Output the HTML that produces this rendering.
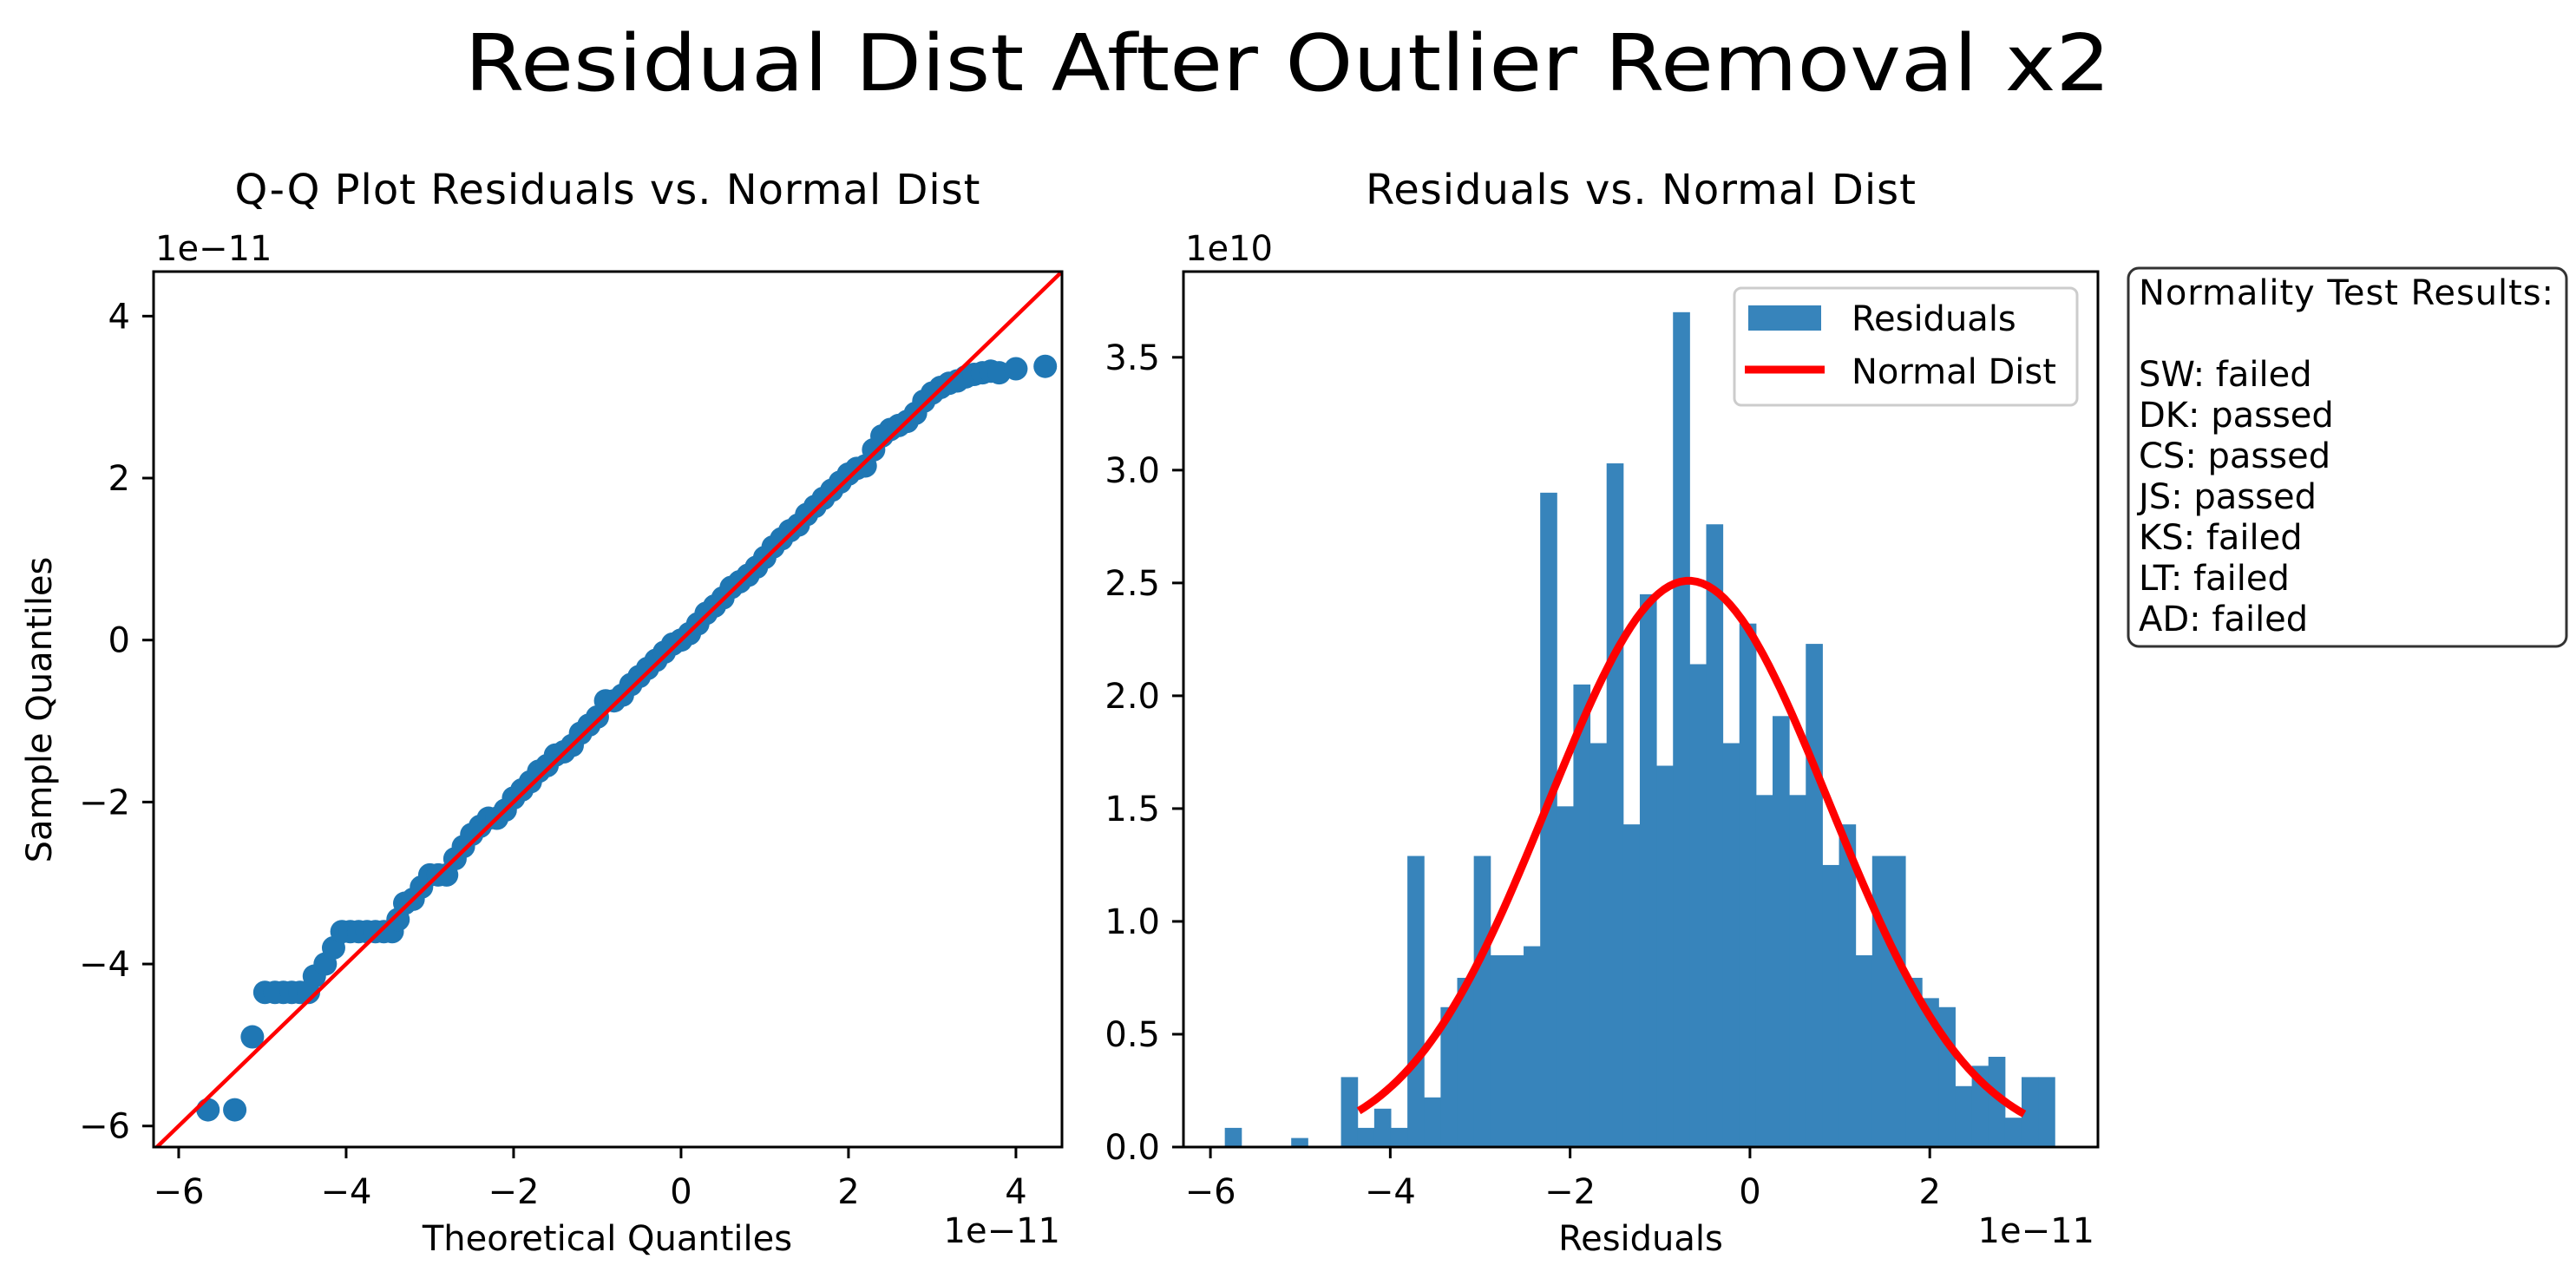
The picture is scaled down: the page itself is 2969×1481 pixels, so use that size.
<!DOCTYPE html>
<html><head><meta charset="utf-8"><style>
html,body{margin:0;padding:0;background:#fff;}
svg{display:block;font-family:"DejaVu Sans","Liberation Sans",sans-serif;}
</style></head><body>
<svg id="fig" width="2969" height="1481" viewBox="0 0 2969 1481" xmlns="http://www.w3.org/2000/svg">
<rect width="2969" height="1481" fill="#fff"/>
<text x="1484" y="104" font-size="90" text-anchor="middle" textLength="1897" lengthAdjust="spacingAndGlyphs">Residual Dist After Outlier Removal x2</text>
<g id="left"></g>
<g id="right"></g>
<g>
<rect x="2453" y="309" width="505" height="436" rx="12" fill="#fff" stroke="#333" stroke-width="3"/>
<text x="2465" y="351" font-size="40" textLength="478">Normality Test Results:</text>
<text x="2465" y="445" font-size="40">SW: failed</text>
<text x="2465" y="492" font-size="40">DK: passed</text>
<text x="2465" y="539" font-size="40">CS: passed</text>
<text x="2465" y="586" font-size="40">JS: passed</text>
<text x="2465" y="633" font-size="40">KS: failed</text>
<text x="2465" y="680" font-size="40">LT: failed</text>
<text x="2465" y="727" font-size="40">AD: failed</text>
</g>
</svg>
<script>
// QQ data (units of 1e-11)
const qqTheoretical = [-5.65,-5.33,-5.12,-4.97,-4.85,-4.75,-4.65,-4.55,-4.45,-4.38,-4.25,-4.15,-4.05,-3.95,-3.85,-3.75,-3.65,-3.55,-3.45,-3.38,-3.3,-3.2,-3.1,-3.0,-2.9,-2.8,-2.7,-2.6,-2.5,-2.4,-2.3,-2.2,-2.1,-2.0,-1.9,-1.8,-1.7,-1.6,-1.5,-1.4,-1.3,-1.2,-1.1,-1.0,-0.9,-0.8,-0.7,-0.6,-0.5,-0.4,-0.3,-0.2,-0.1,0,0.1,0.2,0.3,0.4,0.5,0.6,0.7,0.8,0.9,1.0,1.1,1.2,1.3,1.4,1.5,1.6,1.7,1.8,1.9,2.0,2.1,2.2,2.3,2.4,2.5,2.6,2.7,2.8,2.9,3.0,3.1,3.2,3.3,3.4,3.5,3.6,3.7,3.8,4.0,4.35];
const qqSample = [-5.8,-5.8,-4.9,-4.35,-4.35,-4.35,-4.35,-4.35,-4.35,-4.15,-4.0,-3.8,-3.6,-3.6,-3.6,-3.6,-3.6,-3.6,-3.6,-3.45,-3.25,-3.2,-3.05,-2.9,-2.9,-2.9,-2.7,-2.55,-2.4,-2.3,-2.2,-2.2,-2.1,-1.95,-1.85,-1.75,-1.62,-1.55,-1.42,-1.38,-1.3,-1.15,-1.05,-0.95,-0.75,-0.75,-0.68,-0.55,-0.45,-0.35,-0.25,-0.15,-0.05,0.0,0.08,0.2,0.33,0.42,0.52,0.65,0.72,0.8,0.9,1.02,1.15,1.25,1.35,1.42,1.55,1.65,1.75,1.85,1.95,2.05,2.12,2.15,2.35,2.52,2.6,2.65,2.7,2.8,2.95,3.05,3.12,3.17,3.2,3.25,3.28,3.3,3.32,3.3,3.35,3.38];
const qqTicks = [-6,-4,-2,0,2,4];
const qqTickLabels = ["\u22126","\u22124","\u22122","0","2","4"];

// Histogram data (x in 1e-11, heights in 1e10)
const binStart = -5.84;
const binWidth = 0.1846;
const binHeights = [0.085,0,0,0,0.04,0,0,0.31,0.085,0.17,0.085,1.29,0.22,0.62,0.75,1.29,0.85,0.85,0.89,2.9,1.51,2.05,1.79,3.03,1.43,2.45,1.69,3.7,2.14,2.76,1.79,2.32,1.56,1.91,1.56,2.23,1.25,1.43,0.85,1.29,1.29,0.75,0.66,0.62,0.27,0.36,0.40,0.13,0.31,0.31];
const normMean = -0.68, normSigma = 1.565, normPeak = 2.51, normFrom = -4.35, normTo = 3.05;
const histXTicks = [-6,-4,-2,0,2];
const histXTickLabels = ["\u22126","\u22124","\u22122","0","2"];
const histYTicks = [0,0.5,1.0,1.5,2.0,2.5,3.0,3.5];
const histYTickLabels = ["0.0","0.5","1.0","1.5","2.0","2.5","3.0","3.5"];

const NS="http://www.w3.org/2000/svg";
function mk(parent,tag,attrs,text){const e=document.createElementNS(NS,tag);for(const k in attrs)e.setAttribute(k,attrs[k]);if(text!==undefined)e.textContent=text;parent.appendChild(e);return e;}

// ---- Left QQ plot
const L=document.getElementById('left');
const lx0=177,lx1=1224,ly0=313,ly1=1322;
const lxmin=-6.3,lxmax=4.55,lymin=-6.26,lymax=4.55;
const qx=v=>lx0+(v-lxmin)/(lxmax-lxmin)*(lx1-lx0);
const qy=v=>ly1-(v-lymin)/(lymax-lymin)*(ly1-ly0);
const cp=mk(L,'clipPath',{id:'lc'});mk(cp,'rect',{x:lx0,y:ly0,width:lx1-lx0,height:ly1-ly0});
const pts=mk(L,'g',{'clip-path':'url(#lc)'});


for(let i=0;i<qqTheoretical.length;i++){
  const c=mk(pts,'circle',{cx:qx(qqTheoretical[i]),cy:qy(qqSample[i]),r:13.5,fill:'#1f77b4'});
  
  
}
const ref=mk(pts,'line',{x1:qx(-7),y1:qy(-7),x2:qx(5),y2:qy(5),stroke:'#ff0000','stroke-width':4.5});


const lf=mk(L,'rect',{x:lx0,y:ly0,width:lx1-lx0,height:ly1-ly0,fill:'none',stroke:'#000','stroke-width':3});


qqTicks.forEach((t,i)=>{
  mk(L,'line',{x1:qx(t),y1:ly1,x2:qx(t),y2:ly1+13,stroke:'#000','stroke-width':3});
  const tl=mk(L,'text',{x:qx(t),y:1387,'font-size':40,'text-anchor':'middle'},qqTickLabels[i]);
  
  
  mk(L,'line',{x1:lx0,y1:qy(t),x2:lx0-13,y2:qy(t),stroke:'#000','stroke-width':3});
  const yl=mk(L,'text',{x:150,y:qy(t)+14,'font-size':40,'text-anchor':'end'},qqTickLabels[i]);
  
  
});
let t;
t=mk(L,'text',{x:700,y:235,'font-size':48,'text-anchor':'middle',textLength:859},'Q-Q Plot Residuals vs. Normal Dist');

t=mk(L,'text',{x:179,y:300,'font-size':40},'1e\u221211');

t=mk(L,'text',{x:1222,y:1432,'font-size':40,'text-anchor':'end'},'1e\u221211');

t=mk(L,'text',{x:700,y:1441,'font-size':40,'text-anchor':'middle'},'Theoretical Quantiles');

t=mk(L,'text',{x:0,y:0,'font-size':40,'text-anchor':'middle',transform:'translate(59,818) rotate(-90)'},'Sample Quantiles');


// ---- Right histogram
const R=document.getElementById('right');
const rx0=1364,rx1=2418,ry0=313,ry1=1322;
const rxmin=-6.3,rxmax=3.87,rymax=3.88;
const hx=v=>rx0+(v-rxmin)/(rxmax-rxmin)*(rx1-rx0);
const hy=v=>ry1-v/rymax*(ry1-ry0);
const bars=mk(R,'g',{});


binHeights.forEach((h,i)=>{
  if(h<=0)return;
  const a=hx(binStart+i*binWidth),b=hx(binStart+(i+1)*binWidth);
  const r=mk(bars,'rect',{x:a,y:hy(h),width:b-a+0.5,height:ry1-hy(h),fill:'#3784bb'});
  
  
});
let d='';
for(let k=0;k<=120;k++){const v=normFrom+(normTo-normFrom)*k/120;const y=normPeak*Math.exp(-((v-normMean)**2)/(2*normSigma*normSigma));d+=(k?'L':'M')+hx(v).toFixed(1)+' '+hy(y).toFixed(1);}
const nc=mk(R,'path',{d:d,fill:'none',stroke:'#ff0000','stroke-width':9,'stroke-linejoin':'round'});


const rf=mk(R,'rect',{x:rx0,y:ry0,width:rx1-rx0,height:ry1-ry0,fill:'none',stroke:'#000','stroke-width':3});


histXTicks.forEach((v,i)=>{
  mk(R,'line',{x1:hx(v),y1:ry1,x2:hx(v),y2:ry1+13,stroke:'#000','stroke-width':3});
  const tl=mk(R,'text',{x:hx(v),y:1387,'font-size':40,'text-anchor':'middle'},histXTickLabels[i]);
  
  
});
histYTicks.forEach((v,i)=>{
  mk(R,'line',{x1:rx0,y1:hy(v),x2:rx0-13,y2:hy(v),stroke:'#000','stroke-width':3});
  const tl=mk(R,'text',{x:1337,y:hy(v)+14,'font-size':40,'text-anchor':'end'},histYTickLabels[i]);
  
  
});
t=mk(R,'text',{x:1891,y:235,'font-size':48,'text-anchor':'middle',textLength:634},'Residuals vs. Normal Dist');

t=mk(R,'text',{x:1366,y:300,'font-size':40},'1e10');

t=mk(R,'text',{x:2414,y:1432,'font-size':40,'text-anchor':'end'},'1e\u221211');

t=mk(R,'text',{x:1891,y:1441,'font-size':40,'text-anchor':'middle'},'Residuals');

// legend
const lg=mk(R,'g',{});


mk(lg,'rect',{x:1999,y:332,width:395,height:135,rx:8,fill:'#fff','fill-opacity':0.8,stroke:'#ccc','stroke-width':3});
const lp=mk(lg,'rect',{x:2015,y:352,width:84,height:29,fill:'#3784bb'});


t=mk(lg,'text',{x:2134,y:381,'font-size':40},'Residuals');

const ll=mk(lg,'line',{x1:2011,y1:426,x2:2103,y2:426,stroke:'#ff0000','stroke-width':9});


t=mk(lg,'text',{x:2134,y:442,'font-size':40},'Normal Dist');

</script>
</body></html>
